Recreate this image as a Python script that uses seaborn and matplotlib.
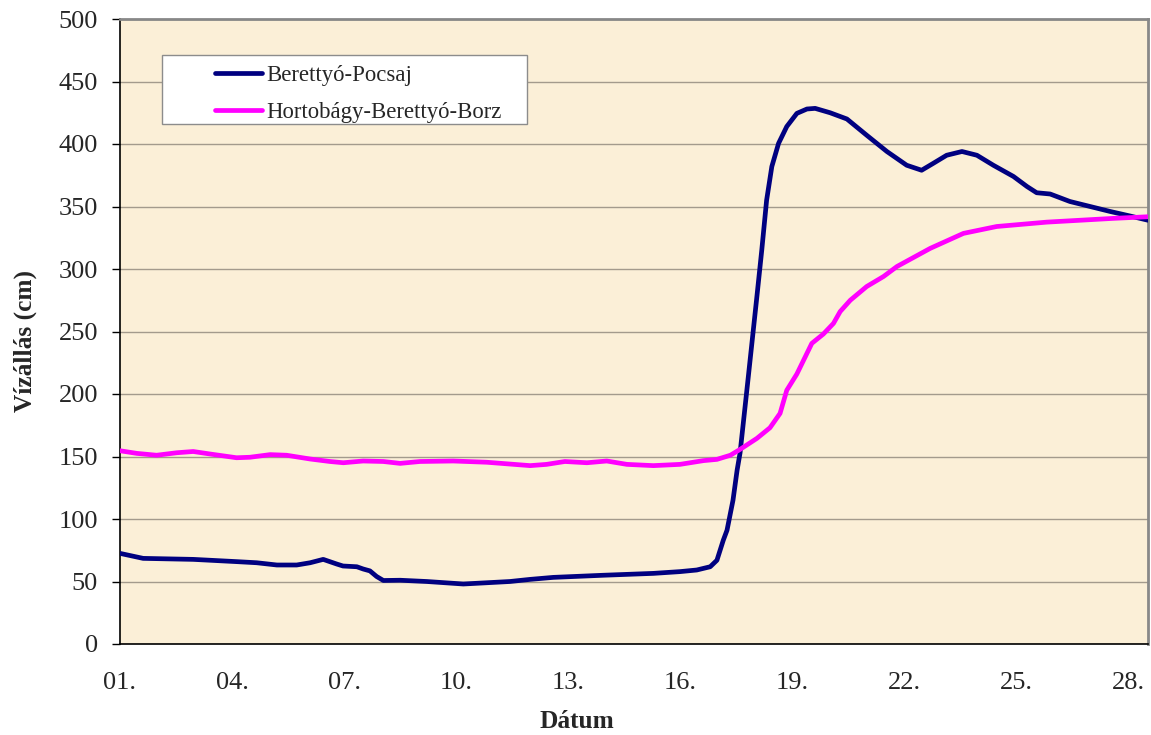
import numpy as np
import pandas as pd
import matplotlib
matplotlib.use("Agg")
import matplotlib.pyplot as plt
import seaborn as sns
from matplotlib.patches import Rectangle
from matplotlib.lines import Line2D

# ---- data ----
series_names = ["Berettyó-Pocsaj", "Hortobágy-Berettyó-Borz"]

pocsaj_day = [1.0, 1.62, 2.96, 4.12, 4.66, 5.2, 5.73, 6.09, 6.44, 6.80, 6.97,
              7.34, 7.51, 7.69, 7.87, 8.05, 8.5, 9.21, 10.19, 10.82, 11.44,
              11.98, 12.6, 13.94, 15.28, 15.99, 16.44, 16.8, 16.98, 17.15,
              17.25, 17.41, 17.52, 17.60, 17.81, 18.05, 18.18, 18.31, 18.45,
              18.63, 18.85, 19.12, 19.39, 19.61, 20.01, 20.46, 20.99, 21.53,
              22.06, 22.46, 22.77, 23.13, 23.54, 23.94, 24.38, 24.92, 25.28,
              25.54, 25.90, 26.43, 26.97, 27.51, 28.04, 28.52]
pocsaj_val = [72.5, 68.5, 67.7, 65.9, 65.0, 63.2, 63.2, 65.0, 67.7, 64.0, 62.4,
              61.8, 60.0, 58.5, 54.0, 50.8, 51.0, 50.0, 48.0, 49.0, 50.0,
              51.7, 53.3, 55.0, 56.5, 57.9, 59.2, 61.8, 67.0, 83.0,
              91.0, 115.0, 139.0, 153.0, 211.0, 278.0, 315.0, 355.0, 382.0,
              400.5, 414.0, 424.5, 428.0, 428.5, 425.0, 420.0, 407.0, 394.0,
              383.0, 379.0, 384.5, 391.0, 394.0, 391.0, 383.0, 374.0, 366.0,
              361.0, 360.0, 354.0, 350.0, 346.0, 342.4, 339.0]

borz_day = [1.0, 1.45, 1.98, 2.52, 2.96, 3.41, 4.12, 4.48, 5.02, 5.46, 6.09,
            6.62, 6.98, 7.51, 8.05, 8.5, 9.03, 9.92, 10.82, 11.98, 12.42,
            12.91, 13.50, 14.03, 14.57, 15.28, 15.99, 16.62, 16.98, 17.34,
            17.60, 18.05, 18.40, 18.67, 18.85, 19.12, 19.52, 19.83, 20.10,
            20.28, 20.55, 20.99, 21.44, 21.80, 22.69, 23.58, 24.47, 25.81,
            27.59, 28.52]
borz_val = [154.6, 152.5, 151.0, 153.0, 154.0, 152.0, 149.0, 149.4, 151.5,
            151.0, 148.0, 146.0, 145.0, 146.4, 146.0, 144.5, 146.0, 146.4,
            145.4, 142.7, 143.7, 146.0, 145.0, 146.4, 143.7, 142.7, 143.7,
            146.7, 147.7, 151.0, 155.7, 164.5, 173.0, 184.5, 203.0, 216.0,
            240.5, 248.0, 256.5, 266.0, 275.0, 286.0, 294.0, 302.0, 316.5,
            328.5, 334.0, 337.5, 340.5, 341.8]

x_ticks = [1, 4, 7, 10, 13, 16, 19, 22, 25, 28]
x_ticklabels = ["01.", "04.", "07.", "10.", "13.", "16.", "19.", "22.", "25.", "28."]
y_ticks = [0, 50, 100, 150, 200, 250, 300, 350, 400, 450, 500]

colors = {"Berettyó-Pocsaj": "#000080", "Hortobágy-Berettyó-Borz": "#FF00FF"}

df = pd.concat([
    pd.DataFrame({"day": pocsaj_day, "value": pocsaj_val, "series": series_names[0]}),
    pd.DataFrame({"day": borz_day, "value": borz_val, "series": series_names[1]}),
])

sns.set_style("white")
plt.rcParams["font.family"] = ["Liberation Serif", "DejaVu Serif"]

W, H = 1151, 735
fig = plt.figure(figsize=(W / 100, H / 100), dpi=100)
ax = fig.add_axes([120 / W, 1 - 644 / H, (1148 - 120) / W, (644 - 19) / H])
ax.set_facecolor("#FBEFD7")

sns.lineplot(data=df, x="day", y="value", hue="series", palette=colors,
             estimator=None, sort=False, linewidth=3.4, ax=ax, legend=False,
             solid_joinstyle="round", solid_capstyle="round", zorder=3)

ax.set_xlim(1, 28.52)
ax.set_ylim(0, 500)
ax.set_yticks(y_ticks)
ax.set_yticklabels([str(v) for v in y_ticks])
ax.set_xticks(x_ticks)
ax.set_xticklabels(x_ticklabels)
ax.yaxis.grid(True, color="#A39A8C", linewidth=1.0, zorder=1)
ax.xaxis.grid(False)
ax.set_axisbelow(True)

ax.tick_params(axis="y", which="major", direction="out", length=5.8, width=1,
               color="black", labelsize=19, pad=10, left=True)
ax.tick_params(axis="x", which="major", length=0, labelsize=19, pad=20)

for s in ["left", "bottom"]:
    ax.spines[s].set_color("black")
    ax.spines[s].set_linewidth(1.2)
for s in ["top", "right"]:
    ax.spines[s].set_color("#888888")
    ax.spines[s].set_linewidth(2.0)

ax.set_xlabel("Dátum", fontsize=18.3, fontweight="bold")
ax.set_ylabel("Vízállás (cm)", fontsize=18.3, fontweight="bold")
ax.xaxis.set_label_coords((576.5 - 120) / 1028, (644 - 710) / 625)
ax.yaxis.set_label_coords((37 - 120) / 1028, (644 - 341) / 625)

# legend box
fig.patches.append(Rectangle((162 / W, 1 - 124 / H), (527 - 162) / W, (124 - 55) / H,
                             transform=fig.transFigure, facecolor="white",
                             edgecolor="#8C8C8C", linewidth=1.0, zorder=5))
handles = [Line2D([0], [0], color=colors[n], linewidth=3.4) for n in series_names]
leg = fig.legend(handles, series_names, loc="upper left",
                 bbox_to_anchor=(215 / W, 1 - 65 / H), frameon=False,
                 fontsize=16.4, handlelength=2.06, handletextpad=0.18,
                 labelspacing=0.72, borderpad=0, borderaxespad=0)
leg.set_zorder(6)

fig.savefig("out.png", dpi=100)
